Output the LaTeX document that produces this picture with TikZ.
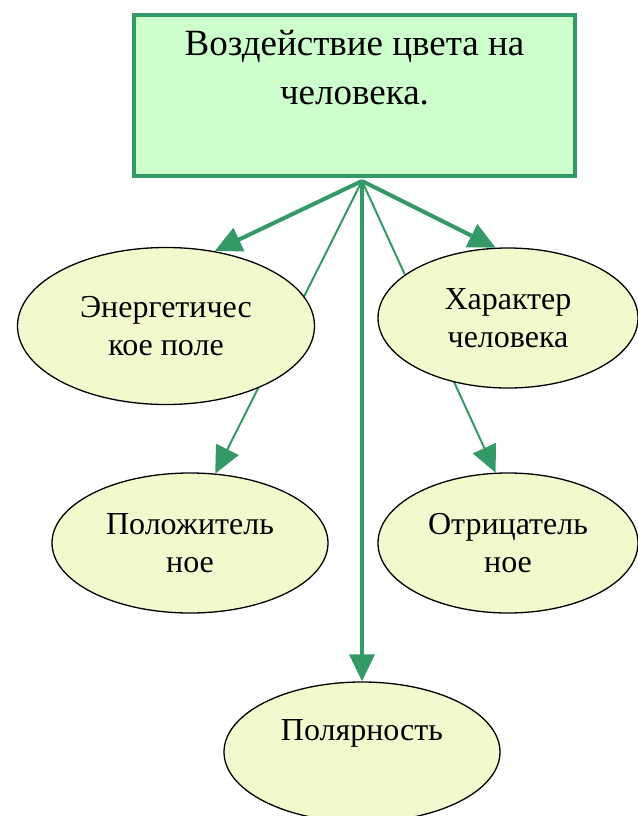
\documentclass[tikz,border=0pt]{standalone}
\usepackage{fontspec}
\setmainfont{Liberation Serif}
\usetikzlibrary{shapes}
\usetikzlibrary{arrows.meta}
\usetikzlibrary{backgrounds}

\definecolor{boxgreen}{HTML}{CCFFCC}
\definecolor{linegreen}{HTML}{339966}
\definecolor{ovalfill}{HTML}{F2F9CC}

\begin{document}
\begin{tikzpicture}[x=1pt, y=-1pt,
  font=\fontsize{32}{38}\selectfont,
  topic/.style={draw=linegreen, line width=4pt, fill=boxgreen,
    minimum width=441pt, minimum height=161pt, inner sep=0pt},
  oval/.style={draw, ellipse, fill=ovalfill, line width=1.3pt,
    inner sep=0pt, align=center},
  link/.style={->, draw=linegreen, line width=4pt},
  thinlink/.style={->, draw=linegreen, line width=2pt},
  >={Triangle[length=27pt,width=25pt]}]
  \useasboundingbox (0,0) rectangle (637,816);

  \node[topic, label={[anchor=north, yshift=-17pt, inner sep=0pt, align=center,
    font=\fontsize{37}{49}\selectfont]north:{Воздействие цвета на\\человека.}}]
    (topic) at (354.5,95.5) {};
  \coordinate (hub) at (362,181);

  \node[oval, minimum width=297pt, minimum height=157pt] (field) at (166,326) {Энергетичес\\кое поле};
  \node[oval, minimum width=260pt, minimum height=140pt] (nature) at (508,318) {Характер\\человека};
  \node[oval, minimum width=276pt, minimum height=140pt] (positive) at (190,543) {Положитель\\ное};
  \node[oval, minimum width=260pt, minimum height=140pt] (negative) at (508,543) {Отрицатель\\ное};
  \node[oval, minimum width=276pt, minimum height=140pt, text height=24pt, text depth=48pt]
    (polarity) at (362,752) {Полярность};

  % thin links run behind the upper ovals
  \begin{scope}[on background layer]
    \draw[thinlink] (hub) -- (positive.70);
    \draw[thinlink] (hub) -- (negative.100);
  \end{scope}

  \draw[link] (hub) -- (field.57);
  \draw[link] (hub) -- (nature.100);
  \draw[link, line width=3.5pt] (hub) -- (polarity.north);

\end{tikzpicture}
\end{document}
